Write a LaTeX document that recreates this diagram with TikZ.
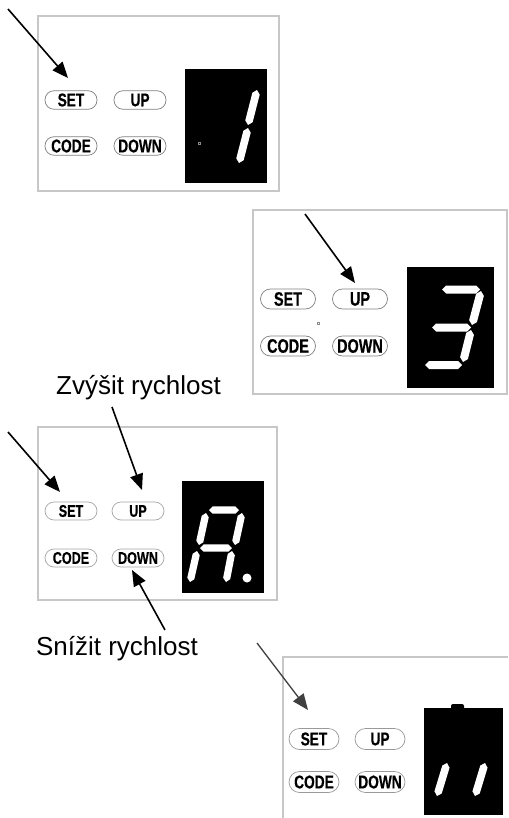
\documentclass[tikz,border=0pt]{standalone}
\usepackage{fontspec}
\setmainfont{Liberation Sans}
\newfontfamily\btnfont[FakeStretch=0.74,FakeBold=0.4]{Liberation Sans}
\usetikzlibrary{arrows.meta}
\newcommand\dseg[5]{%
  \pgfmathsetmacro\sdx{#3-#1}%
  \pgfmathsetmacro\sdy{#4-#2}%
  \pgfmathsetmacro\slen{veclen(\sdx,\sdy)}%
  \pgfmathsetmacro\sux{#5*\sdx/\slen}%
  \pgfmathsetmacro\suy{#5*\sdy/\slen}%
  \fill[segfill] (#1,#2) -- ({#1+\sux-\suy},{#2+\suy+\sux}) -- ({#3-\sux-\suy},{#4-\suy+\sux}) -- (#3,#4) -- ({#3-\sux+\suy},{#4-\suy-\sux}) -- ({#1+\sux+\suy},{#2+\suy-\sux}) -- cycle;%
}
\tikzset{
  segfill/.style={fill=white},
  frame/.style={draw=black!22, line width=1.2pt},
  btn/.style={draw=black!50, line width=0.7pt, rounded corners=9pt, minimum width=52pt, minimum height=18.5pt, inner sep=0pt, font=\btnfont\bfseries\fontsize{18.5}{18.5}\selectfont},
  btnbig/.style={btn, minimum width=55pt, minimum height=20pt, rounded corners=10pt, font=\btnfont\bfseries\fontsize{19.5}{19.5}\selectfont},
  btnlight/.style={btn, draw=black!35, minimum height=18pt, rounded corners=9pt, font=\btnfont\bfseries\fontsize{17}{17}\selectfont},
  btntall/.style={btn, draw=black!40, minimum width=50pt, minimum height=21pt, rounded corners=10.5pt, font=\btnfont\bfseries\fontsize{18.5}{18.5}\selectfont},
  arr/.style={-{Triangle[length=16pt,width=13pt]}, line width=1.6pt, draw=black},
  label/.style={font=\fontsize{26}{26}\selectfont, anchor=base, inner sep=0pt},
  ledot/.style={draw=black!45, line width=0.5pt}
}
\begin{document}
\begin{tikzpicture}[x=1pt,y=-1pt]
\useasboundingbox (0,0) rectangle (508,818);
\fill[white] (0,0) rectangle (508,818);

% ---------- panel 1 ----------
\draw[frame] (38,16) rectangle (279,191);
\fill[black] (185,69) rectangle (267,183);
\dseg{257}{90}{248}{125}{3.8}
\dseg{248}{128}{239}{163}{3.8}
\draw[ledot] (198,142) rectangle (200,144);
\node[btn] (p1set) at (71,100) {SET};
\node[btn] (p1up) at (140,100) {UP};
\node[btn] (p1code) at (71,146) {CODE};
\node[btn] (p1down) at (140,146) {DOWN};
\coordinate (a1s) at (8,9);
\coordinate (a1e) at (68,78);
\draw[arr] (a1s) -- (a1e);

% ---------- panel 2 ----------
\draw[frame] (253,210) rectangle (507,394);
\fill[black] (407,267) rectangle (494,388);
\dseg{442}{289.5}{480}{289.5}{4}
\dseg{481}{291}{472}{325}{4}
\dseg{432}{327.5}{471}{327.5}{4}
\dseg{471}{330}{463}{362}{4}
\dseg{425}{365}{462}{365}{4}
\draw[ledot] (317,322) rectangle (319,324);
\node[btnbig] (p2set) at (288,299) {SET};
\node[btnbig] (p2up) at (360,299) {UP};
\node[btnbig] (p2code) at (288,346) {CODE};
\node[btnbig] (p2down) at (360,346) {DOWN};
\coordinate (a2s) at (305,214);
\coordinate (a2e) at (355,283);
\draw[arr] (a2s) -- (a2e);

% ---------- panel 3 ----------
\node[label] (zvysit) at (138.5,394) {Zvýšit rychlost};
\draw[frame] (38,427) rectangle (277,600);
\fill[black] (182,481) rectangle (264,593);
\dseg{209}{510}{239}{510}{3.6}
\dseg{206}{513}{199}{545}{3.6}
\dseg{242}{513}{235}{545}{3.6}
\dseg{200}{548}{232}{548}{3.6}
\dseg{197}{551}{190}{582}{3.6}
\dseg{232}{551}{226}{582}{3.6}
\fill[white] (247,578) circle (4.5);
\node[btnlight] (p3set) at (71,511) {SET};
\node[btnlight] (p3up) at (138,511) {UP};
\node[btnlight] (p3code) at (71,558) {CODE};
\node[btnlight] (p3down) at (138,558) {DOWN};
\coordinate (a3s) at (8,432);
\coordinate (a3e) at (60,492);
\draw[arr] (a3s) -- (a3e);
\coordinate (a4s) at (112,407);
\coordinate (a4e) at (142,490);
\draw[arr] (a4s) -- (a4e);
\coordinate (a5s) at (165,630);
\coordinate (a5e) at (132,570);
\draw[arr] (a5s) -- (a5e);
\node[label] (snizit) at (117,655) {Snížit rychlost};

% ---------- panel 4 ----------
\draw[frame] (283,818) -- (283,657) -- (508,657);
\fill[black] (424,708) rectangle (503,815);
\fill[black, rounded corners=2pt] (451,704) rectangle (464,710);
\dseg{447}{763}{437}{796}{3.8}
\dseg{485}{763}{475}{796}{3.8}
\node[btntall] (p4set) at (314,739) {SET};
\node[btntall] (p4up) at (380,739) {UP};
\node[btntall] (p4code) at (314,782) {CODE};
\node[btntall] (p4down) at (380,782) {DOWN};
\coordinate (a6s) at (257,643);
\coordinate (a6e) at (308,710);
\draw[arr, draw=black!75, line width=1.3pt] (a6s) -- (a6e);
\end{tikzpicture}
\end{document}
